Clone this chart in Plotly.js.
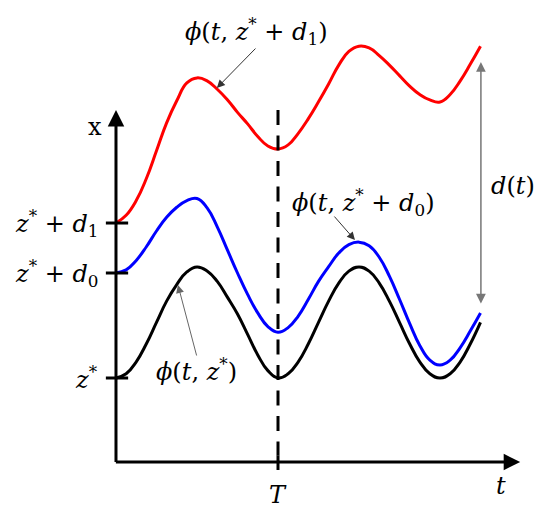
<!DOCTYPE html>
<html>
<head>
<meta charset="utf-8">
<script src="https://cdn.plot.ly/plotly-3.0.1.min.js"></script>
<style>
  body { margin: 0; background: #fff; }
  #graphDiv { width: 550px; height: 515px; }
</style>
</head>
<body>
<div id="graphDiv"></div>
<script>
// sample times along t (quarter steps), T is at t = 4
const tValues = [0, 0.25, 0.5, 0.75, 1, 1.25, 1.5, 1.75, 2, 2.25, 2.5, 2.75, 3, 3.25, 3.5, 3.75, 4,
    4.25, 4.5, 4.75, 5, 5.25, 5.5, 5.75, 6, 6.25, 6.5, 6.75, 7, 7.25, 7.5, 7.75, 8, 8.25, 8.5, 8.75, 9];

// phi(t, z*) black
const phiZ = [4, 4.2, 4.77, 5.63, 6.65, 7.66, 8.45, 9.05, 9.29, 9.1, 8.6, 7.85, 7.05, 6.08, 5.1, 4.35, 4,
    4.2, 4.77, 5.63, 6.65, 7.66, 8.52, 9.09, 9.29, 9.09, 8.52, 7.66, 6.65, 5.63, 4.77, 4.2, 4, 4.2, 4.77, 5.63, 6.65];
// phi(t, z* + d0) blue
const phiD0 = [9.0, 9.15, 9.6, 10.25, 11.0, 11.65, 12.13, 12.45, 12.55, 12.1, 11.2, 10.1, 9.0, 7.98, 7.1, 6.45, 6.18,
    6.4, 6.95, 7.75, 8.6, 9.3, 9.95, 10.35, 10.47, 10.3, 9.75, 8.85, 7.75, 6.6, 5.55, 4.85, 4.62, 4.85, 5.45, 6.25, 7.1];
// phi(t, z* + d1) red
const phiD1 = [11.38, 11.75, 12.45, 13.5, 14.82, 16.15, 17.2, 18.05, 18.29, 18.15, 17.75, 17.25, 16.65, 16.1, 15.5, 15.05, 14.9,
    15.1, 15.65, 16.35, 17.15, 18.0, 18.9, 19.55, 19.8, 19.72, 19.35, 18.9, 18.4, 17.9, 17.5, 17.24, 17.14, 17.5, 18.15, 18.95, 19.8];

const yTickVals = [4, 9, 11.38];
const yTickText = ["<i>z</i><sup>*</sup>", "<i>z</i><sup>*</sup> + <i>d</i><sub>0</sub>", "<i>z</i><sup>*</sup> + <i>d</i><sub>1</sub>"];
const xTickVals = [4];
const xTickText = ["<i>T</i>"];

const T = 4;
const tEnd = 9.98;
const xTop = 16.76;

const FONT = "DejaVu Serif, Liberation Serif, serif";

const curve = (y, color, name) => ({
    x: tValues, y: y, name: name,
    mode: "lines",
    line: { color: color, width: 3, shape: "spline", smoothing: 1.3 },
    hoverinfo: "skip",
});

const traces = [curve(phiD1, "#ff0000", "d1"), curve(phiD0, "#0000ff", "d0"), curve(phiZ, "#000000", "z")];

// arrow from (ax, ay) to (x, y) in data units
const arrow = (x, y, ax, ay, opts) => Object.assign({
    x: x, y: y, ax: ax, ay: ay, xref: "x", yref: "y", axref: "x", ayref: "y",
    text: "", showarrow: true, arrowhead: 2, arrowsize: 1, arrowwidth: 3, arrowcolor: "#000",
    standoff: 0, startstandoff: 0,
}, opts || {});

const label = (x, y, text, opts) => Object.assign({
    x: x, y: y, xref: "x", yref: "y", text: text, showarrow: false,
    font: { family: FONT, size: 24, color: "#000" },
}, opts || {});

const annotations = [
    // axes
    arrow(0, xTop, 0, -0.07, { arrowsize: 1.1 }),
    arrow(tEnd, 0, -0.04, 0, { arrowsize: 1.1 }),
    // curve pointers
    arrow(2.49, 17.81, 3.48, 19.76, { arrowwidth: 1, arrowsize: 1.6, arrowcolor: "#333" }),
    arrow(5.9, 10.57, 5.36, 11.76, { arrowwidth: 1, arrowsize: 1.6, arrowcolor: "#333" }),
    arrow(1.53, 8.43, 2.0, 5.0, { arrowwidth: 1, arrowsize: 1.6, arrowcolor: "#666" }),
    // d(t)
    arrow(9.01, 19.05, 9.01, 7.48, { arrowwidth: 1.5, arrowsize: 1.3, arrowcolor: "#777", arrowside: "end+start" }),
    // texts
    label(3.48, 20.48, "<i>ϕ</i>(<i>t</i>, <i>z</i><sup>*</sup> + <i>d</i><sub>1</sub>)"),
    label(6.12, 12.38, "<i>ϕ</i>(<i>t</i>, <i>z</i><sup>*</sup> + <i>d</i><sub>0</sub>)"),
    label(1.98, 4.38, "<i>ϕ</i>(<i>t</i>, <i>z</i><sup>*</sup>)"),
    label(9.8, 13.14, "<i>d</i>(<i>t</i>)"),
    label(-0.52, 15.95, "x"),
    label(9.5, -1.14, "<i>t</i>"),
];

yTickVals.forEach((v, i) => annotations.push(label(-0.4, v, yTickText[i], { xanchor: "right" })));
xTickVals.forEach((v, i) => annotations.push(label(v, -1.57, xTickText[i])));

const shapes = [
    // dashed T line, dashes start at the top
    { type: "line", xref: "x", yref: "y", x0: T, x1: T, y0: xTop, y1: 0.3,
      line: { color: "#000", width: 3, dash: "15px,10.5px" } },
    // T tick across the t axis
    { type: "line", xref: "x", yref: "y", x0: T, x1: T, y0: 0.3, y1: -0.38,
      line: { color: "#000", width: 3 } },
];
yTickVals.forEach((v) => shapes.push({
    type: "line", xref: "x", yref: "y", x0: -0.25, x1: 0.3, y0: v, y1: v,
    line: { color: "#000", width: 3 },
}));

const layout = {
    width: 550, height: 515,
    margin: { l: 0, r: 0, t: 0, b: 0 },
    paper_bgcolor: "#fff", plot_bgcolor: "#fff",
    showlegend: false,
    xaxis: { range: [-2.864, 10.716], visible: false, fixedrange: true },
    yaxis: { range: [-2.524, 22], visible: false, fixedrange: true },
    annotations: annotations,
    shapes: shapes,
};

Plotly.newPlot("graphDiv", traces, layout, { displayModeBar: false, staticPlot: true });
</script>
</body>
</html>
